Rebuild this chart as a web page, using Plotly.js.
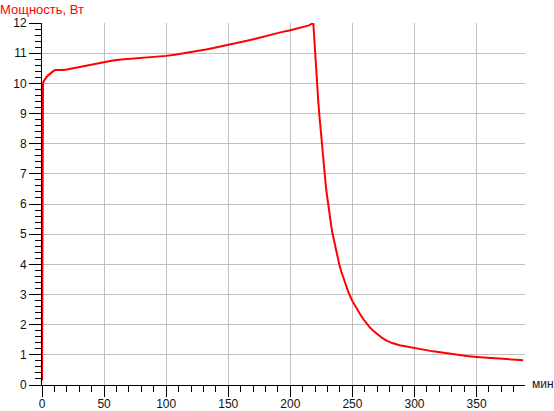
<!DOCTYPE html>
<html>
<head>
<meta charset="utf-8">
<script src="https://cdn.plot.ly/plotly-3.0.1.min.js"></script>
<style>html,body{margin:0;padding:0;background:#fff;}#chart{width:554px;height:411px;}</style>
</head>
<body>
<div id="chart"></div>
<script>
// time, minutes
const timeMin = [0, 0.5, 0.8, 1.5, 2.7, 4, 5.4, 6.7, 8, 9.3, 10.7, 12, 14, 17, 20, 25, 30, 35, 40, 45, 50, 57, 64, 71, 78, 85, 92, 100, 107, 115, 120, 125, 132, 138, 144, 150, 157, 165, 172, 178, 185, 192, 200, 205, 210, 215, 218.5, 219.2, 220, 220.7, 221.8, 222.6, 223.7, 224.7, 225.5, 226.3, 227.1, 228.2, 229, 230, 231, 232, 233, 234, 235, 236, 237, 238, 239.4, 241, 243, 245, 247, 250, 253, 256, 259, 261.4, 264, 267, 270, 274, 277.5, 282, 288, 294, 300, 308, 315, 325, 334, 342, 350, 360, 369, 378, 387.5];
// power, W
const powerW = [0.15, 9.85, 10.0, 10.08, 10.17, 10.23, 10.28, 10.33, 10.37, 10.41, 10.44, 10.44, 10.43, 10.44, 10.46, 10.5, 10.55, 10.6, 10.64, 10.68, 10.72, 10.76, 10.79, 10.81, 10.84, 10.86, 10.88, 10.91, 10.95, 11.0, 11.03, 11.07, 11.12, 11.17, 11.22, 11.27, 11.33, 11.41, 11.48, 11.55, 11.62, 11.69, 11.76, 11.81, 11.86, 11.92, 12.0, 11.5, 10.95, 10.45, 9.9, 9.35, 8.8, 8.3, 7.92, 7.55, 7.2, 6.78, 6.45, 6.12, 5.8, 5.52, 5.26, 5.02, 4.81, 4.61, 4.42, 4.24, 4.0, 3.76, 3.5, 3.26, 3.05, 2.78, 2.55, 2.36, 2.17, 2.03, 1.91, 1.79, 1.68, 1.56, 1.47, 1.39, 1.32, 1.27, 1.22, 1.16, 1.115, 1.06, 1.0, 0.96, 0.93, 0.9, 0.87, 0.85, 0.82];
const xTicks = [0, 50, 100, 150, 200, 250, 300, 350];
const yTicks = [0, 1, 2, 3, 4, 5, 6, 7, 8, 9, 10, 11, 12];
const yTitle = "Мощность, Вт";
const xUnit = "мин";

const trace = {
  x: timeMin, y: powerW, type: 'scatter', mode: 'lines',
  line: {color: '#ff0000', width: 2}, hoverinfo: 'skip'
};
const font = {family: 'Liberation Sans, Arial, sans-serif', size: 12, color: '#111'};
const layout = {
  width: 554, height: 411,
  margin: {l: 42, r: 29, t: 23, b: 26},
  paper_bgcolor: '#fff', plot_bgcolor: '#fff',
  showlegend: false,
  font: font,
  title: {text: yTitle, x: 0, xref: 'container', xanchor: 'left', y: 1 - 9/411, yref: 'container', yanchor: 'middle',
          font: {family: 'Liberation Sans, Arial, sans-serif', size: 13, color: '#ff0000'}},
  xaxis: {
    range: [0, 389], tickmode: 'array', tickvals: xTicks, ticktext: xTicks.map(String),
    showgrid: true, gridcolor: '#c0c0c0', gridwidth: 1, zeroline: false,
    showline: true, linecolor: '#000', linewidth: 1,
    ticks: 'outside', ticklen: 11, tickcolor: '#000', tickwidth: 1, ticklabelstandoff: -3,
    minor: {dtick: 10, tick0: 0, ticks: 'outside', ticklen: 6, tickcolor: '#000', tickwidth: 1, showgrid: false},
    tickfont: font, fixedrange: true
  },
  yaxis: {
    range: [0, 12], tickmode: 'array', tickvals: yTicks, ticktext: yTicks.map(String),
    showgrid: true, gridcolor: '#c0c0c0', gridwidth: 1, zeroline: false,
    showline: true, linecolor: '#000', linewidth: 1,
    ticks: 'outside', ticklen: 12, tickcolor: '#000', tickwidth: 1,
    minor: {dtick: 0.2, tick0: 0, ticks: 'outside', ticklen: 6, tickcolor: '#000', tickwidth: 1, showgrid: false},
    tickfont: font, fixedrange: true
  },
  annotations: [{
    text: xUnit, xref: 'paper', yref: 'paper', x: 1, y: 0, xanchor: 'left', yanchor: 'middle',
    xshift: 5, yshift: 1, showarrow: false, font: font
  }]
};
Plotly.newPlot('chart', [trace], layout, {displayModeBar: false, staticPlot: true});
</script>
</body>
</html>
